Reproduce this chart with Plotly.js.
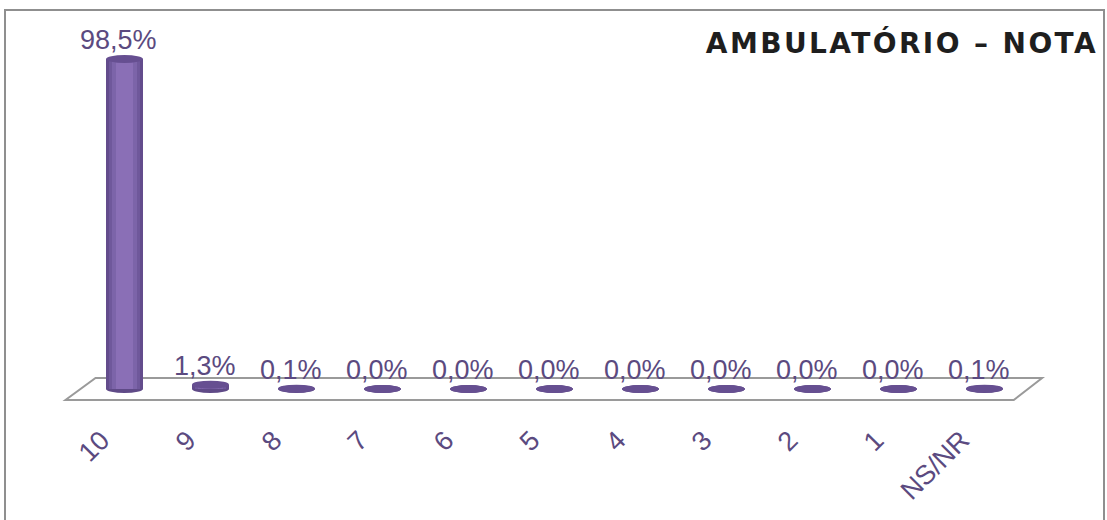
<!DOCTYPE html>
<html>
<head>
<meta charset="utf-8">
<script src="https://cdn.plot.ly/plotly-3.0.1.min.js"></script>
<style>
  html, body { margin: 0; padding: 0; background: #ffffff; overflow: hidden; }
  #chart { position: absolute; left: 0; top: 0; width: 1107px; height: 520px; }
  #frame { position: absolute; left: 4px; top: 9px; width: 1097px; height: 530px;
           border: 2px solid #8f8f8f; pointer-events: none; }
  #chart .gtitle { letter-spacing: 2.4px; }
</style>
</head>
<body>
<div id="chart"></div>
<div id="frame"></div>
<script>
// ---- data ----
const categories = ["10", "9", "8", "7", "6", "5", "4", "3", "2", "1", "NS/NR"];
const values = [98.5, 1.3, 0.1, 0.0, 0.0, 0.0, 0.0, 0.0, 0.0, 0.0, 0.1];
const valueLabels = ["98,5%", "1,3%", "0,1%", "0,0%", "0,0%", "0,0%", "0,0%", "0,0%", "0,0%", "0,0%", "0,1%"];
const chartTitle = "AMBULATÓRIO – NOTA";

// ---- style ----
const purpleText = "#5b4a80";
const labelFont = { family: "Liberation Sans, Arial, sans-serif", size: 27, color: purpleText };
const idx = categories.map((c, i) => i);
const barW = 0.43;
const ellH = 2.4; // ellipse height in % units

// cylinder body: overlaid bars of decreasing width to fake shading
const shades = [
  { w: barW, c: "#634c8c" },
  { w: barW * 0.86, c: "#6f589b" },
  { w: barW * 0.68, c: "#7c64a9" },
  { w: barW * 0.44, c: "#8a6fb6" }
];
const traces = shades.map(s => ({
  type: "bar",
  x: idx,
  y: values,
  width: idx.map(() => s.w),
  marker: { color: s.c, line: { width: 0 } },
  hoverinfo: "skip",
  showlegend: false
}));

const shapes = [];
// floor
shapes.push({
  type: "path", xref: "x", yref: "y", layer: "below",
  path: "M -0.686 -3.3 L 10.34 -3.3 L 10.67 3.3 L -0.337 3.3 Z",
  line: { color: "#9a9a9a", width: 2 }, fillcolor: "rgba(255,255,255,0)"
});
// bottom ellipses
idx.forEach((i) => {
  shapes.push({
    type: "circle", xref: "x", yref: "y", layer: "below",
    x0: i - barW / 2, x1: i + barW / 2, y0: -ellH / 2, y1: ellH / 2,
    fillcolor: "#5f4a87", line: { width: 0 }
  });
});
// top ellipses
idx.forEach((i) => {
  shapes.push({
    type: "circle", xref: "x", yref: "y", layer: "above",
    x0: i - barW / 2, x1: i + barW / 2, y0: values[i] - ellH / 2, y1: values[i] + ellH / 2,
    fillcolor: "#664f91", line: { width: 0 }
  });
});

// value labels
const annotations = idx.map(i => ({
  x: i, y: values[i], xref: "x", yref: "y",
  text: valueLabels[i], showarrow: false,
  xanchor: "center", yanchor: "bottom", xshift: -6, yshift: 2,
  font: labelFont
}));
// category labels (rotated)
idx.forEach(i => {
  annotations.push({
    x: i, y: 0, xref: "x", yref: "paper",
    text: categories[i], showarrow: false, textangle: -45,
    xanchor: "right", yanchor: "top", xshift: -6, yshift: -4,
    font: labelFont
  });
});

const layout = {
  width: 1107, height: 520,
  margin: { l: 0, r: 0, t: 20, b: 102 },
  paper_bgcolor: "#ffffff", plot_bgcolor: "rgba(0,0,0,0)",
  barmode: "overlay",
  bargap: 0,
  showlegend: false,
  title: {
    text: "<b>" + chartTitle + "</b>",
    xref: "container", x: 1098 / 1107, xanchor: "right",
    yref: "container", y: 1 - 33 / 520, yanchor: "top",
    font: { family: "DejaVu Sans, Verdana, sans-serif", size: 28, color: "#1e1e1e" }
  },
  xaxis: {
    range: [-124.5 / 86, (1107 - 124.5) / 86],
    showticklabels: false, ticks: "", showgrid: false, zeroline: false, showline: false,
    fixedrange: true
  },
  yaxis: {
    range: [-(418 - 389) / 3.35, (389 - 20) / 3.35],
    visible: false, showgrid: false, zeroline: false, fixedrange: true
  },
  shapes: shapes,
  annotations: annotations
};

Plotly.newPlot("chart", traces, layout, { displayModeBar: false, staticPlot: true });
</script>
</body>
</html>
